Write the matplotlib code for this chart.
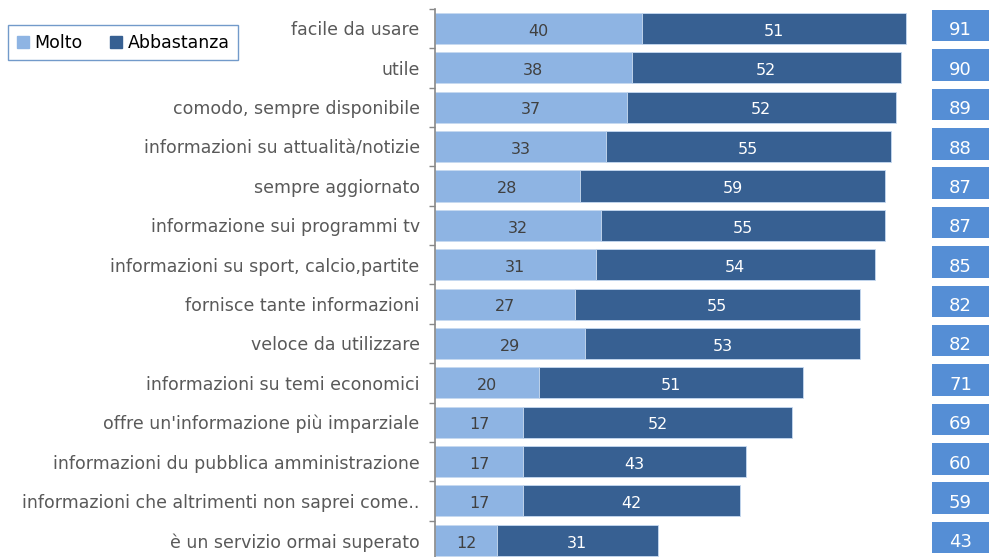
import numpy as np
import matplotlib
matplotlib.use("Agg")
import matplotlib.pyplot as plt
from matplotlib.ticker import FixedLocator

categories = [
    "facile da usare",
    "utile",
    "comodo, sempre disponibile",
    "informazioni su attualità/notizie",
    "sempre aggiornato",
    "informazione sui programmi tv",
    "informazioni su sport, calcio,partite",
    "fornisce tante informazioni",
    "veloce da utilizzare",
    "informazioni su temi economici",
    "offre un'informazione più imparziale",
    "informazioni du pubblica amministrazione",
    "informazioni che altrimenti non saprei come..",
    "è un servizio ormai superato",
]
molto = [40, 38, 37, 33, 28, 32, 31, 27, 29, 20, 17, 17, 17, 12]
abbastanza = [51, 52, 52, 55, 59, 55, 54, 55, 53, 51, 52, 43, 42, 31]
totale = [91, 90, 89, 88, 87, 87, 85, 82, 82, 71, 69, 60, 59, 43]

c_molto = "#8EB4E3"
c_abb = "#376092"
c_tot = "#558ED5"
grey = "#595959"

plt.rcParams['font.family'] = ['DejaVu Sans']

fig = plt.figure(figsize=(9.89, 5.57), dpi=100)
ax = fig.add_axes([435/989, -3/557, 554/989, (557 - 8.8 + 3)/557])

y = np.arange(len(categories))
ax.barh(y, molto, height=0.79, color=c_molto, edgecolor="#C6D9F1", linewidth=0.6)
ax.barh(y, abbastanza, left=molto, height=0.79, color=c_abb, edgecolor="#C6D9F1", linewidth=0.6)

# totals in boxes on the right
box_x, box_w = 95.9, 11.2
ax.barh(y - 0.07, [box_w] * len(y), left=box_x, height=0.8, color=c_tot, clip_on=False)

for i in range(len(y)):
    ax.text(molto[i] / 2, y[i] + 0.07, str(molto[i]), ha="center", va="center",
            fontsize=11.5, color="#404040")
    ax.text(molto[i] + abbastanza[i] / 2, y[i] + 0.07, str(abbastanza[i]),
            ha="center", va="center", fontsize=11.5, color="white")
    ax.text(box_x + box_w / 2, y[i] + 0.05, str(totale[i]), ha="center",
            va="center", fontsize=13, color="white")

ax.set_xlim(0, 107)
ax.set_ylim(len(y) - 0.5, -0.5)
ax.set_xticks([])
ax.set_yticks(y)
ax.set_yticklabels(categories, fontsize=12.5, color=grey)
ax.tick_params(axis="y", which="major", length=0, pad=11)
ax.yaxis.set_minor_locator(FixedLocator(np.arange(-0.5, len(y), 1)))
ax.tick_params(axis="y", which="minor", length=4, color="#888888", width=1)

for s in ["top", "right", "bottom"]:
    ax.spines[s].set_visible(False)
ax.spines["left"].set_color("#888888")
ax.spines["left"].set_linewidth(1.2)

h1 = plt.Rectangle((0, 0), 1, 1, color=c_molto)
h2 = plt.Rectangle((0, 0), 1, 1, color=c_abb)
leg = fig.legend([h1, h2], ["Molto", "Abbastanza"], loc="upper left",
                 bbox_to_anchor=(8/989, 1 - 25/557), ncol=2, fontsize=12.5,
                 frameon=True, fancybox=False, handlelength=0.7, handleheight=0.7,
                 handletextpad=0.3, columnspacing=1.6, borderpad=0.5,
                 borderaxespad=0)
leg.get_frame().set_edgecolor("#4F81BD")
leg.get_frame().set_linewidth(1.0)

fig.savefig("out.png", dpi=100)
